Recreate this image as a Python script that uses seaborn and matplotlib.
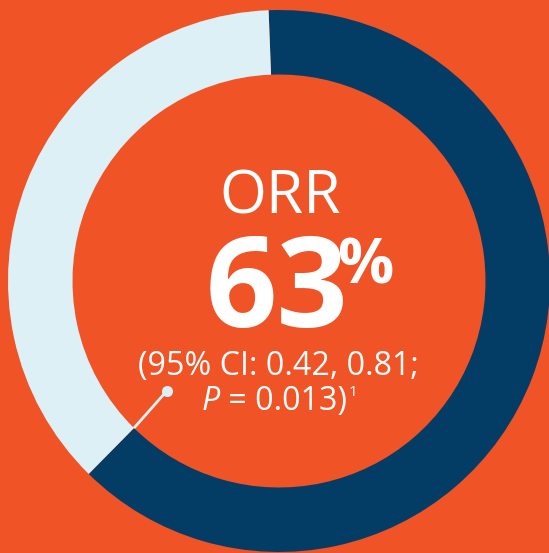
import matplotlib
matplotlib.use("Agg")
import matplotlib.pyplot as plt
import seaborn as sns
import numpy as np

# donut data (percent of patients)
labels = ["Response", "No response"]
values = [63, 37]
colors = ["#033D66", "#DDF0F6"]
bg = "#F05325"

title = "ORR"
big_value = "63"
big_unit = "%"
ci_line = "(95% CI: 0.42, 0.81;"
p_label = "P"
p_rest = " = 0.013)"
footnote = "1"

sns.set_style("white")
plt.rcParams["font.family"] = ["Open Sans", "DejaVu Sans"]

W, H = 549, 553
fig = plt.figure(figsize=(W / 100, H / 100), dpi=100, facecolor=bg)
ax = fig.add_axes([0, 0, 1, 1])
ax.set_facecolor(bg)

start = 92.2
cx, cy = 279, H - 281
r_out, r_in = 271, 206.5
wedges, _ = ax.pie(values, colors=colors, startangle=start, counterclock=False,
                   radius=r_out, center=(cx, cy),
                   wedgeprops=dict(width=r_out - r_in, linewidth=0))
ax.set_xlim(0, W)
ax.set_ylim(0, H)
ax.set_aspect("equal")
ax.axis("off")

# center texts
ax.text(280, H - 213, title, ha="center", va="baseline", fontsize=43.5,
        color="white")
ax.text(277, H - 327, big_value, ha="center", va="baseline", fontsize=90,
        fontweight="bold", color="white")
ax.text(337, H - 283, big_unit, ha="left", va="baseline", fontsize=45,
        fontweight="bold", color="white")
ax.text(278, H - 375, ci_line, ha="center", va="baseline", fontsize=23.2,
        color="white")

# second line: italic P, rest, superscript footnote
fig.canvas.draw()
r = fig.canvas.get_renderer()
t1 = ax.text(202, H - 410, p_label, ha="left", va="baseline", fontsize=23.2,
             style="italic", color="white")
bb = t1.get_window_extent(r)
x2 = ax.transData.inverted().transform((bb.x1, 0))[0]
t2 = ax.text(x2, H - 410, p_rest, ha="left", va="baseline", fontsize=23.2,
             color="white")
bb2 = t2.get_window_extent(r)
x3 = ax.transData.inverted().transform((bb2.x1, 0))[0]
ax.text(x3 + 1, H - 396, footnote, ha="left", va="baseline", fontsize=11,
        color="white")

# leader line from the divider to the text
end_ang = np.deg2rad(start - values[0] / 100 * 360)
lx, ly = cx + r_in * np.cos(end_ang), cy + r_in * np.sin(end_ang)
ax.plot([lx, 166.7], [ly, H - 391], color=colors[1], lw=2, solid_capstyle="butt")
ax.plot(166.7, H - 391, "o", ms=8, color=colors[1], mew=0)

fig.savefig("out.png", dpi=100, facecolor=bg)
